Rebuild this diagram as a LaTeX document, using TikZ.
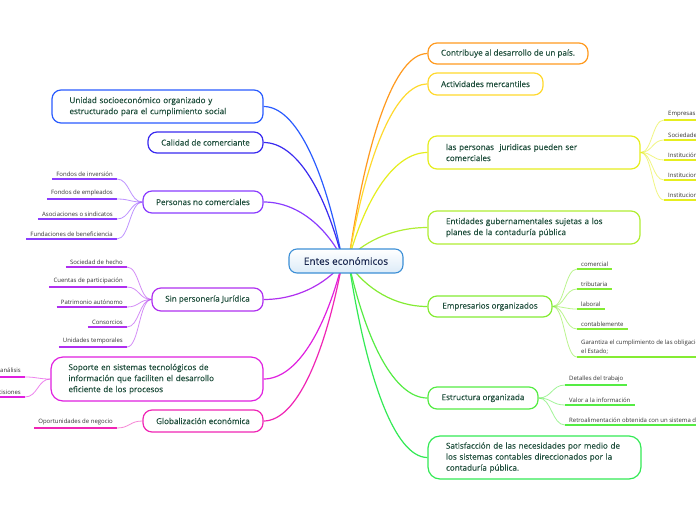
\documentclass[tikz,border=0pt]{standalone}
\usepackage{fontspec}
\setmainfont{Open Sans}
\newfontfamily\mfontfam{Open Sans}[FakeBold=0.25]
\usetikzlibrary{calc}
\pgfdeclarelayer{bg}
\pgfsetlayers{bg,main}
\definecolor{cOrange}{HTML}{FF9A1F}
\definecolor{cGold}{HTML}{FFD92E}
\definecolor{cYellow}{HTML}{E6EE1E}
\definecolor{cYG}{HTML}{B0EE33}
\definecolor{cGa}{HTML}{84EC33}
\definecolor{cGb}{HTML}{55EC44}
\definecolor{cGc}{HTML}{33EA55}
\definecolor{cBlue}{HTML}{2A5CFF}
\definecolor{cIndigo}{HTML}{3A2AF0}
\definecolor{cViolet}{HTML}{8A3CFF}
\definecolor{cPurple}{HTML}{B030F0}
\definecolor{cMagenta}{HTML}{E020E0}
\definecolor{cPink}{HTML}{F025B5}
\definecolor{txtgreen}{HTML}{1E4D3B}
\definecolor{txtnavy}{HTML}{1A2850}
\definecolor{leaftxt}{HTML}{333333}
\definecolor{cenborder}{HTML}{3C8FD6}
\definecolor{cenfill}{HTML}{DCEBF8}
\begin{document}
\begin{tikzpicture}[x=1pt,y=-1pt,
  mbox/.style={draw=#1, line width=1.2pt, rounded corners=9pt, fill=white, inner sep=0pt,
    text=txtgreen, font=\mfontfam\fontsize{8.1}{11}\selectfont},
  cnode/.style={draw=cenborder, line width=1.1pt, rounded corners=8pt, top color=white, bottom color=cenfill,
    inner sep=0pt, minimum width=114pt, minimum height=24pt, text=txtnavy, font=\mfontfam\fontsize{10}{12}\selectfont},
  leafL/.style={anchor=south east, inner xsep=4pt, inner ysep=2.5pt, text=leaftxt, font=\fontsize{6}{9.5}\selectfont},
  leafR/.style={anchor=south west, inner xsep=4pt, inner ysep=2.5pt, text=leaftxt, font=\fontsize{6}{9.5}\selectfont, align=left},
  uline/.style={draw=#1, line width=1.8pt},
  mainlink/.style={draw=#1, line width=1.2pt, to path={let \p1=(\tikztostart), \p2=(\tikztotarget) in
    .. controls ({\x1+0.22*(\x2-\x1)},{\y1+0.58*(\y2-\y1)}) and ({\x2-0.42*(\x2-\x1)},\y2) .. (\tikztotarget)}},
  sublink/.style={draw=#1, draw opacity=0.55, line width=0.8pt, to path={let \p1=(\tikztostart), \p2=(\tikztotarget) in
    .. controls ({0.5*(\x1+\x2)},\y1) and ({0.5*(\x1+\x2)},\y2) .. (\tikztotarget)}}
]
\useasboundingbox (0,0) rectangle (696,520);
\clip (0,0) rectangle (696,520);

% start points of the main branches (hidden under the central node)
\coordinate (sUL) at (342,258);
\coordinate (sDL) at (342,264);
\coordinate (sUR) at (349,258);
\coordinate (sDR) at (349,264);

% central node
\node[cnode] (cen) at (346,261) {Entes económicos};

% left main nodes
\node[mbox=cBlue, minimum width=211pt, minimum height=33pt, text width=176pt, align=left] (unidad) at (157.5,106.5)
  {Unidad socioeconómico organizado y\\estructurado para el cumplimiento social};
\node[mbox=cIndigo, minimum width=115pt, minimum height=21pt] (calidad) at (205.5,142.5) {Calidad de comerciante};
\node[mbox=cViolet, minimum width=120pt, minimum height=22pt] (pnc) at (203,202) {Personas no comerciales};
\node[mbox=cPurple, minimum width=111pt, minimum height=23pt] (spj) at (207.5,299.5) {Sin personería Jurídica};
\node[mbox=cMagenta, minimum width=212pt, minimum height=44pt, text width=177pt, align=left, rounded corners=12pt] (soporte) at (157,379)
  {Soporte en sistemas tecnológicos de\\información que faciliten el desarrollo\\eficiente de los procesos};
\node[mbox=cPink, minimum width=120pt, minimum height=22pt] (glob) at (203,421) {Globalización económica};

% right main nodes
\node[mbox=cOrange, minimum width=160pt, minimum height=21pt] (contrib) at (508,53.5) {Contribuye al desarrollo de un país.};
\node[mbox=cGold, minimum width=115pt, minimum height=22pt] (activ) at (485.5,84) {Actividades mercantiles};
\node[mbox=cYellow, minimum width=212pt, minimum height=33pt, text width=176pt, align=left] (lpj) at (534,152.5)
  {las personas\ \ juridicas pueden ser\\comerciales};
\node[mbox=cYG, minimum width=212pt, minimum height=33pt, text width=176pt, align=left] (entid) at (534,227.5)
  {Entidades gubernamentales sujetas a los\\planes de la contaduría pública};
\node[mbox=cGa, minimum width=124pt, minimum height=21pt] (empr) at (490,306.5) {Empresarios organizados};
\node[mbox=cGb, minimum width=110pt, minimum height=22pt] (estr) at (483,398) {Estructura organizada};
\node[mbox=cGc, minimum width=213pt, minimum height=43pt, text width=177pt, align=left, rounded corners=12pt] (satis) at (534.5,457.5)
  {Satisfacción de las necesidades por medio de\\los sistemas contables direccionados por la\\contaduría pública.};

% leaves: Personas no comerciales
\node[leafL] (pa) at (117,179) {Fondos de inversión};
\node[leafL] (pb) at (117,199) {Fondos de empleados};
\node[leafL] (pc) at (117,219) {Asociaciones o sindicatos};
\node[leafL] (pd) at (117,239) {Fundaciones de beneficiencia};
% leaves: Sin personería Jurídica
\node[leafL] (sa) at (127,267) {Sociedad de hecho};
\node[leafL] (sb) at (127,287) {Cuentas de participación};
\node[leafL] (sc) at (127,307) {Patrimonio autónomo};
\node[leafL] (sd) at (127,327) {Consorcios};
\node[leafL] (se) at (127,347) {Unidades temporales};
% leaves: Soporte
\node[leafL] (ta) at (25,377) {Información oportuna para el análisis};
\node[leafL] (tb) at (25,397) {Toma de decisiones};
% leaves: Globalización
\node[leafL] (ga) at (117,428) {Oportunidades de negocio};
% leaves: las personas juridicas
\node[leafR] (la) at (664,120) {Empresas industriales y comerciales del Estado};
\node[leafR] (lb) at (664,140) {Sociedades de economía mixta};
\node[leafR] (lc) at (664,160) {Institución financiera};
\node[leafR] (ld) at (664,180) {Instituciones de crédito};
\node[leafR] (le) at (664,200) {Instituciones auxiliares};
% leaves: Empresarios organizados
\node[leafR] (ea) at (577,269) {comercial};
\node[leafR] (eb) at (577,289) {tributaria};
\node[leafR] (ec) at (577,309) {laboral};
\node[leafR] (ed) at (577,329) {contablemente};
\node[leafR] (ee) at (577,357) {Garantiza el cumplimiento de las obligaciones con\\el Estado;};
% leaves: Estructura organizada
\node[leafR] (ra) at (565,385) {Detalles del trabajo};
\node[leafR] (rb) at (565,405) {Valor a la información};
\node[leafR] (rc) at (565,425) {Retroalimentación obtenida con un sistema de información contable};

% underlines
\foreach \k/\c in {pa/cViolet,pb/cViolet,pc/cViolet,pd/cViolet,
  sa/cPurple,sb/cPurple,sc/cPurple,sd/cPurple,se/cPurple,
  ta/cMagenta,tb/cMagenta,ga/cPink,
  la/cYellow,lb/cYellow,lc/cYellow,ld/cYellow,le/cYellow,
  ea/cGa,eb/cGa,ec/cGa,ed/cGa,ee/cGa,
  ra/cGb,rb/cGb,rc/cGb}
  \draw[uline=\c] (\k.south west) -- (\k.south east);

\begin{pgfonlayer}{bg}
\fill[white] (0,0) rectangle (696,520);
% main branches
\draw[mainlink=cBlue] (sUL) to (unidad.east);
\draw[mainlink=cIndigo] (sUL) to (calidad.east);
\draw[mainlink=cViolet] (sUL) to (pnc.east);
\draw[mainlink=cPurple] (sDL) to (spj.east);
\draw[mainlink=cMagenta] (sDL) to (soporte.east);
\draw[mainlink=cPink] (sDL) to (glob.east);
\draw[mainlink=cOrange] (sUR) to (contrib.west);
\draw[mainlink=cGold] (sUR) to (activ.west);
\draw[mainlink=cYellow] (sUR) to (lpj.west);
\draw[mainlink=cYG] (sUR) to (entid.west);
\draw[mainlink=cGa] (sDR) to (empr.west);
\draw[mainlink=cGb] (sDR) to (estr.west);
\draw[mainlink=cGc] (sDR) to (satis.west);
% sub branches
\foreach \k in {pa,pb,pc,pd} \draw[sublink=cViolet] (pnc.west) to (\k.south east);
\foreach \k in {sa,sb,sc,sd,se} \draw[sublink=cPurple] (spj.west) to (\k.south east);
\foreach \k in {ta,tb} \draw[sublink=cMagenta] (soporte.west) to (\k.south east);
\draw[sublink=cPink] (glob.west) to (ga.south east);
\foreach \k in {la,lb,lc,ld,le} \draw[sublink=cYellow] (lpj.east) to (\k.south west);
\foreach \k in {ea,eb,ec,ed,ee} \draw[sublink=cGa] (empr.east) to (\k.south west);
\foreach \k in {ra,rb,rc} \draw[sublink=cGb] (estr.east) to (\k.south west);
\end{pgfonlayer}
\end{tikzpicture}
\end{document}
